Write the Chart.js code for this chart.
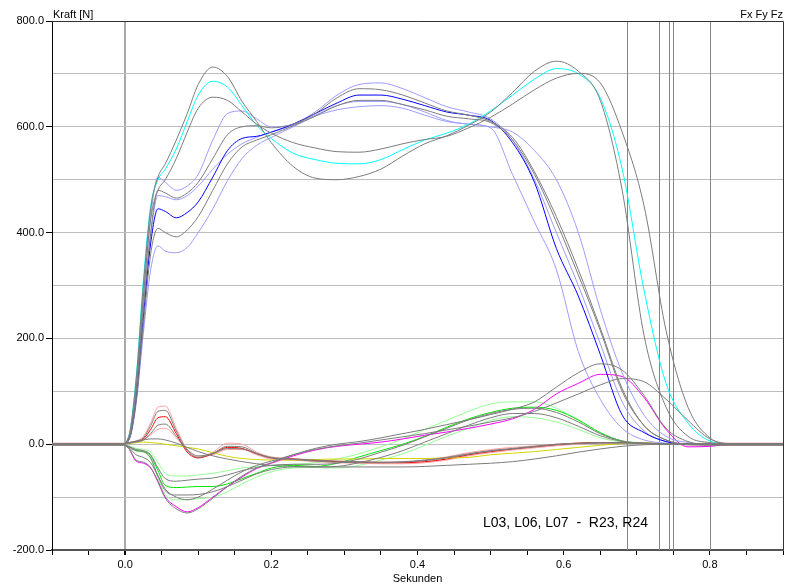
<!DOCTYPE html>
<html>
<head>
<meta charset="utf-8">
<script src="https://cdn.jsdelivr.net/npm/chart.js@4/dist/chart.umd.min.js"></script>
<style>
  html, body { margin: 0; padding: 0; background: #fff; }
</style>
</head>
<body>
<canvas id="chart" width="789" height="586"></canvas>
<script>
// time grid (seconds) shared by every curve
const T = [-0.1, -0.005, 0.005, 0.015, 0.025, 0.035, 0.045, 0.055, 0.07, 0.085,
  0.1, 0.12, 0.14, 0.16, 0.18, 0.2, 0.23, 0.26, 0.29, 0.32,
  0.35, 0.38, 0.41, 0.44, 0.47, 0.5, 0.53, 0.56, 0.59, 0.62,
  0.65, 0.68, 0.71, 0.74, 0.77, 0.8, 0.83, 0.9]

// vertical force Fz [N] - right side trials (double hump)
const fzR1 = [0, 0, 15, 120, 300, 445, 505, 530, 575, 625,
  680, 713, 695, 648, 610, 570, 525, 503, 500, 506,
  520, 545, 568, 583, 603, 628, 665, 705, 724, 705,
  650, 480, 205, 70, 15, 3, 0, 0]
const fzR2 = [0, 0, 15, 125, 310, 450, 500, 520, 558, 610,
  660, 686, 675, 640, 603, 578, 550, 538, 531, 530,
  538, 557, 575, 588, 605, 630, 660, 690, 710, 700,
  655, 520, 290, 115, 40, 6, 0, 0]
const fzR3 = [0, 0, 12, 105, 280, 425, 480, 500, 540, 590,
  635, 656, 650, 628, 605, 588, 570, 560, 553, 552,
  558, 568, 576, 582, 598, 618, 643, 670, 692, 701,
  683, 590, 450, 215, 70, 12, 0, 0]

// vertical force Fz [N] - left side trials (plateau)
const fzL1 = [0, 0, 10, 100, 270, 430, 505, 495, 480, 488,
  510, 575, 625, 630, 615, 600, 605, 628, 660, 680,
  683, 672, 655, 638, 628, 615, 575, 500, 400, 300,
  190, 80, 25, 5, 0, 0, 0, 0]
const fzL2 = [0, 0, 9, 95, 255, 400, 480, 475, 465, 475,
  495, 540, 585, 600, 602, 598, 605, 625, 655, 672,
  670, 660, 645, 630, 622, 610, 580, 515, 430, 330,
  220, 105, 35, 8, 0, 0, 0, 0]
const fzL3 = [0, 0, 8, 85, 240, 380, 445, 440, 428, 438,
  458, 505, 555, 578, 582, 590, 605, 625, 645, 660,
  660, 652, 640, 628, 622, 612, 570, 495, 370, 280,
  170, 55, 22, 5, 0, 0, 0, 0]
const fzL4 = [0, 0, 9, 92, 250, 395, 470, 468, 462, 470,
  488, 520, 548, 568, 580, 590, 603, 622, 640, 648,
  648, 642, 628, 612, 605, 598, 510, 420, 330, 175,
  85, 30, 8, 2, 0, 0, 0, 0]
const fzL5 = [0, 0, 8, 80, 225, 360, 408, 400, 392, 405,
  430, 480, 530, 562, 575, 585, 602, 620, 640, 650,
  650, 642, 632, 620, 615, 608, 575, 510, 420, 320,
  215, 100, 35, 8, 0, 0, 0, 0]
const fzL6 = [0, 0, 7, 75, 210, 330, 375, 365, 362, 372,
  400, 445, 498, 540, 565, 580, 600, 620, 632, 638,
  640, 635, 622, 610, 605, 600, 590, 555, 500, 400,
  255, 135, 55, 15, 3, 0, 0, 0]

// horizontal forces Fx [N]
const fx1 = [0, 0, 3, 5, 10, 28, 50, 52, 20, -15,
  -26, -18, -6, -8, -18, -26, -28, -31, -33, -34,
  -35, -35, -33, -28, -20, -14, -9, -5, -1, 2,
  3, 3, 2, 1, 0, 0, 0, 0]
const fx2 = [2, 2, 3, 6, 15, 40, 70, 72, 30, -10,
  -25, -15, 2, 0, -15, -24, -27, -30, -32, -33,
  -34, -34, -30, -24, -16, -10, -6, -3, 0, 2,
  3, 3, 2, 1, 1, 2, 2, 2]
const fx3 = [-2, -2, 2, 4, 8, 18, 28, 30, 12, -12,
  -24, -20, -10, -10, -20, -28, -30, -33, -35, -36,
  -37, -37, -35, -30, -22, -16, -11, -7, -3, 0,
  2, 2, 1, 0, -1, -2, -2, -2]
const fx4 = [1, 1, 3, 6, 12, 35, 62, 64, 25, -12,
  -25, -17, -4, -5, -17, -25, -28, -30, -32, -33,
  -34, -33, -30, -25, -18, -12, -8, -4, 0, 2,
  3, 3, 2, 1, 0, 1, 1, 1]
const fx5 = [-1, -1, 2, 4, 8, 20, 36, 38, 15, -10,
  -22, -18, -8, -9, -18, -26, -29, -32, -34, -35,
  -35, -34, -31, -26, -19, -13, -9, -5, -1, 1,
  2, 2, 1, 0, 0, -1, -1, -1]
const fx6 = [0, 0, 1, 3, 4, 3, 2, 0, -3, -6,
  -9, -16, -23, -27, -29, -30, -30, -29, -28, -28,
  -27, -27, -27, -26, -25, -20, -17, -14, -10, -6,
  -2, 1, 2, 1, 0, 0, 0, 0]
const fx7 = [0, 0, 2, 5, 8, 10, 10, 8, 2, -6,
  -14, -22, -28, -33, -37, -40, -42, -43, -43, -43,
  -43, -43, -42, -40, -38, -36, -33, -28, -22, -15,
  -9, -4, -1, 0, 0, 0, 0, 0]

// horizontal forces Fy [N]
const fy1 = [0, 0, -5, -12, -14, -22, -50, -78, -82, -81,
  -80, -80, -75, -65, -55, -45, -40, -42, -36, -24,
  -12, 0, 15, 32, 48, 60, 68, 70, 64, 46,
  22, 6, 2, 0, 0, 0, 0, 0]
const fy2 = [1, 1, -3, -8, -10, -15, -35, -55, -60, -60,
  -58, -55, -50, -45, -42, -40, -38, -35, -28, -18,
  -5, 10, 28, 45, 62, 76, 80, 80, 68, 45,
  20, 6, 3, 1, 0, 1, 1, 1]
const fy3 = [-1, -1, -5, -13, -15, -28, -65, -95, -105, -105,
  -103, -100, -90, -75, -62, -52, -45, -44, -45, -40,
  -30, -18, -2, 15, 30, 45, 52, 50, 42, 28,
  12, 4, 1, 0, -1, -1, -1, -1]
const fy4 = [0, 0, -4, -10, -12, -20, -45, -65, -70, -68,
  -66, -64, -58, -50, -44, -40, -38, -38, -36, -28,
  -15, -2, 14, 30, 46, 58, 66, 68, 60, 42,
  20, 6, 2, 0, 0, 0, 0, 0]
const fy5 = [-2, -2, -5, -12, -14, -26, -60, -88, -96, -96,
  -95, -90, -80, -68, -56, -48, -43, -43, -42, -35,
  -25, -12, 4, 20, 36, 50, 58, 58, 50, 34,
  16, 5, 1, 0, -1, -2, -2, -2]
const fy6 = [0, 0, -8, -32, -36, -45, -70, -100, -118, -128,
  -120, -100, -80, -62, -46, -36, -22, -11, -4, 0,
  4, 10, 17, 23, 30, 38, 48, 66, 95, 115,
  132, 128, 88, 28, -5, -4, 0, 0]
const fy7 = [0, 0, -8, -30, -34, -44, -72, -102, -122, -130,
  -122, -102, -80, -60, -45, -35, -20, -8, 0, 5,
  12, 20, 28, 37, 46, 56, 66, 80, 108, 135,
  152, 140, 92, 30, 5, 0, 0, 0]
const fy8 = [0, 0, -6, -20, -25, -35, -60, -85, -100, -105,
  -100, -85, -68, -52, -40, -32, -20, -10, -3, 2,
  8, 14, 20, 27, 34, 42, 50, 62, 78, 95,
  112, 124, 118, 85, 45, 10, 1, 0]

// cursor lines (seconds)
const markers = [0.686, 0.730, 0.744, 0.749, 0.800]

const GRAY = '#7c7c7c'
// first entries are drawn on top
const curves = [
  [fx7, GRAY], [fy8, GRAY], [fy7, GRAY], [fy4, GRAY], [fy5, GRAY], [fx4, GRAY], [fx5, GRAY],
  [fzR1, GRAY], [fzR3, GRAY], [fzL2, GRAY], [fzL5, GRAY],
  [fzR2, '#00ffff'], [fzL3, '#0000ff'], [fzL1, '#9c9cff'], [fzL4, '#9c9cff'], [fzL6, '#9c9cff'],
  [fy6, '#ff00ff'], [fx6, '#d4d400'], [fx1, '#ff0000'], [fx2, '#ffa0a0'], [fx3, '#ffa0a0'],
  [fy1, '#00e600'], [fy2, '#94ff94'], [fy3, '#94ff94']
]

const FONT = '"Liberation Sans", Arial, sans-serif'
const isMult = (v, s) => Math.abs(v / s - Math.round(v / s)) < 1e-6

const frame = {
  id: 'frame',
  beforeDatasetsDraw(chart) {
    const {ctx, chartArea: a, scales: {x}} = chart
    ctx.save()
    ctx.strokeStyle = '#858585'
    ctx.lineWidth = 1
    markers.forEach(m => {
      const px = Math.round(x.getPixelForValue(m)) + 0.5
      ctx.beginPath(); ctx.moveTo(px, a.top); ctx.lineTo(px, a.bottom); ctx.stroke()
    })
    ctx.restore()
  },
  afterDraw(chart) {
    const {ctx, chartArea: a} = chart
    ctx.save()
    ctx.strokeStyle = '#333'
    ctx.lineWidth = 1
    ctx.beginPath()
    ctx.moveTo(a.left, a.top + 0.5); ctx.lineTo(a.right + 0.5, a.top + 0.5)
    ctx.lineTo(a.right + 0.5, a.bottom)
    ctx.stroke()
    ctx.fillStyle = '#000'
    ctx.font = '11px ' + FONT
    ctx.textBaseline = 'alphabetic'
    ctx.textAlign = 'left'
    ctx.fillText('Kraft [N]', a.left + 1, a.top - 3)
    ctx.textAlign = 'right'
    ctx.fillText('Fx Fy Fz', a.right, a.top - 3)
    ctx.font = '14px ' + FONT
    ctx.textAlign = 'left'
    ctx.fillText('L03, L06, L07  -  R23, R24', a.right - 300, a.bottom - 23)
    ctx.restore()
  }
}

new Chart(document.getElementById('chart'), {
  type: 'line',
  data: {
    datasets: curves.map(([vals, color]) => ({
      data: T.map((t, i) => ({x: t, y: vals[i]})),
      borderColor: color,
      borderWidth: 1,
      pointRadius: 0,
      fill: false,
      cubicInterpolationMode: 'monotone'
    }))
  },
  options: {
    responsive: false,
    animation: false,
    events: [],
    layout: {padding: {left: 0, right: 6, top: 21, bottom: 0}},
    plugins: {legend: {display: false}, tooltip: {enabled: false}},
    scales: {
      x: {
        type: 'linear',
        min: -0.1,
        max: 0.9,
        afterFit: s => { s.height = 36 },
        border: {color: '#555', width: 2},
        grid: {
          color: c => (c.tick && Math.abs(c.tick.value) < 1e-9) ? '#aaaaaa' : 'rgba(0,0,0,0)',
          lineWidth: c => (c.tick && Math.abs(c.tick.value) < 1e-9) ? 2 : 1,
          tickColor: '#000',
          tickLength: 5
        },
        ticks: {
          stepSize: 0.05,
          autoSkip: false,
          maxRotation: 0,
          padding: 3,
          color: '#000',
          font: {size: 11, family: FONT},
          callback: v => isMult(v, 0.2) ? v.toFixed(1) : ''
        },
        title: {display: true, text: 'Sekunden', color: '#000', font: {size: 11, family: FONT}, padding: 0}
      },
      y: {
        min: -200,
        max: 800,
        afterFit: s => { s.width = 52 },
        border: {color: '#000', width: 1},
        grid: {
          color: '#bdbdbd',
          tickColor: c => (c.tick && isMult(c.tick.value, 200)) ? '#000' : 'rgba(0,0,0,0)',
          tickLength: 6
        },
        ticks: {
          stepSize: 100,
          autoSkip: false,
          padding: 2,
          color: '#000',
          font: {size: 11, family: FONT},
          callback: v => isMult(v, 200) ? v.toFixed(1) : ''
        }
      }
    }
  },
  plugins: [frame]
})
</script>
</body>
</html>
